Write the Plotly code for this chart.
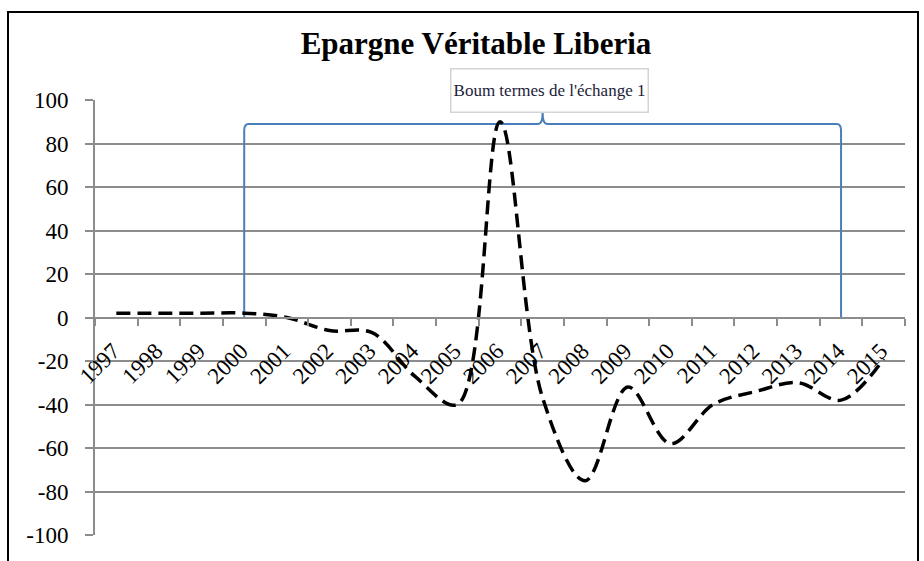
import plotly.graph_objects as go

# Genuine savings, Liberia (% of GNI)
years = [str(y) for y in range(1997, 2016)]
savings = [2, 2, 2, 2, 0, -6, -7, -27, -40, 90, -37, -75, -32, -58, -40, -34, -30, -38, -19]

# y-axis ticks, written with a plain hyphen for negatives
y_ticks = list(range(-100, 101, 20))
y_tick_text = [str(v) for v in y_ticks]

# Terms-of-trade boom period marked by a bracket
boom_start = "2000"
boom_end = "2014"
boom_label = "Boum termes de l'échange 1"
bracket_level = 89

W, H = 924, 561
ML, MR, MT, MB = 95, 19, 100, 26
plot_w = W - ML - MR
plot_h = H - MT - MB

grid = "#8c8c8c"
blue = "#4a7ebb"
serif = "Liberation Serif"

fig = go.Figure()
fig.add_trace(go.Scatter(
    x=years, y=savings, mode="lines",
    line=dict(color="black", width=3.5, dash="14px,7px", shape="spline", smoothing=1.0),
    showlegend=False, hoverinfo="x+y",
))

i0 = years.index(boom_start)
i1 = years.index(boom_end)
mid = (i0 + i1) / 2
lv = bracket_level
bracket = (
    f"M {i0},0 L {i0},{lv - 3} Q {i0},{lv} {i0 + 0.1},{lv} "
    f"L {mid - 0.1},{lv} Q {mid},{lv} {mid},{lv + 5.5} Q {mid},{lv} {mid + 0.1},{lv} "
    f"L {i1 - 0.1},{lv} Q {i1},{lv} {i1},{lv - 3} L {i1},0"
)

def px_x(p):
    return (p - ML) / plot_w

def px_y(p):
    return (H - MB - p) / plot_h

shapes = [
    dict(type="path", path=bracket, xref="x", yref="y",
         line=dict(color=blue, width=2), layer="between"),
    # outer frame of the chart
    dict(type="rect", xref="paper", yref="paper",
         x0=px_x(8), x1=px_x(918), y0=px_y(600), y1=px_y(12),
         line=dict(color="black", width=2), fillcolor="rgba(0,0,0,0)", layer="above"),
]

fig.update_layout(
    width=W, height=H,
    margin=dict(l=ML, r=MR, t=MT, b=MB, pad=0),
    paper_bgcolor="white", plot_bgcolor="white",
    title=dict(text="<b>Epargne Véritable Liberia</b>", x=476 / W, xanchor="center",
               xref="container", y=1 - 43 / H, yref="container", yanchor="middle",
               font=dict(family=serif, size=31, color="black")),
    shapes=shapes,
    annotations=[dict(
        text=boom_label, x=mid, y=px_y(91), xref="x", yref="paper",
        xanchor="center", yanchor="middle", xshift=7,
        width=194, height=40,
        showarrow=False, font=dict(family=serif, size=17, color="#1c1c3a"),
        bgcolor="white", bordercolor="#d4d4d4", borderwidth=1.5, borderpad=1,
    )],
    xaxis=dict(
        type="category", range=[-0.5, len(years) - 0.5],
        anchor="free", position=0.5,
        showgrid=False, zeroline=False,
        showline=True, linecolor=grid, linewidth=2,
        ticks="outside", tickson="boundaries", ticklen=7, tickwidth=2, tickcolor=grid,
        tickangle=-45, ticklabelstandoff=10, ticklabelshift=-3,
        tickfont=dict(family=serif, size=23, color="black"),
    ),
    yaxis=dict(
        range=[-100, 100], tickvals=y_ticks, ticktext=y_tick_text,
        showgrid=True, gridcolor=grid, gridwidth=2,
        zeroline=False,
        showline=True, linecolor=grid, linewidth=2,
        ticks="outside", ticklen=8, tickwidth=2, tickcolor=grid,
        ticklabelstandoff=12,
        tickfont=dict(family=serif, size=23, color="black"),
    ),
)

fig.write_html("out.html")
